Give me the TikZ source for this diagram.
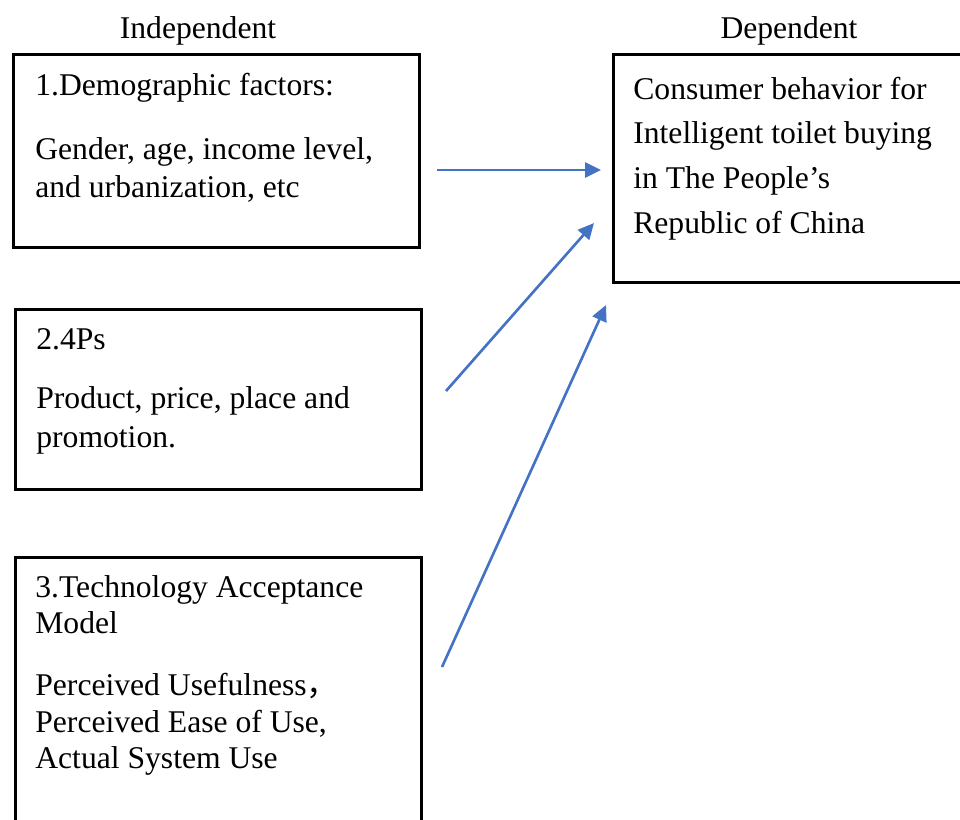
\documentclass[tikz,border=0pt]{standalone}
\usepackage{fontspec}
\setmainfont{Liberation Serif}
\newfontfamily\cjk{Noto Sans CJK SC}
\usetikzlibrary{arrows.meta,positioning}
\definecolor{linkblue}{HTML}{4472C4}

\begin{document}
\begin{tikzpicture}[x=0.02cm, y=-0.02cm, >={Triangle[length=0.32cm,width=0.3cm]},
  box/.style={draw, line width=1.6pt, anchor=north west, inner sep=0pt},
  txt/.style={anchor=base west, inner sep=0pt, font=\fontsize{18}{22}\selectfont},
  head/.style={txt, anchor=base},
  link/.style={->, draw=linkblue, line width=1.5pt}]

\useasboundingbox (0,0) rectangle (960,819);
\clip (0,0) rectangle (960,819);

% Headings
\node[head] (indep) at (198,38) {Independent};
\node[head] (dep) at (789,38) {Dependent};

% Boxes
\node[box, minimum width=8.12cm, minimum height=3.86cm] (demo) at (12,53) {};
\node[box, minimum width=8.12cm, minimum height=3.6cm] (fourps) at (14,308) {};
\node[box, minimum width=8.12cm, minimum height=6cm] (tam) at (14,556) {};
\node[box, minimum width=8cm, minimum height=4.56cm] (cons) at (612,53) {};

% Box 1
\node[txt] (demot) at (35,95) {1.Demographic factors:};
\node[txt] (demoa) at (35,159) {Gender, age, income level,};
\node[txt] (demob) at (35,197) {and urbanization, etc};

% Box 2
\node[txt] (fourpst) at (36,349) {2.4Ps};
\node[txt] (fourpsa) at (36,408) {Product, price, place and};
\node[txt] (fourpsb) at (36,447) {promotion.};

% Box 3
\node[txt] (tamt) at (35,597) {3.Technology Acceptance};
\node[txt] (tamu) at (35,633) {Model};
\node[txt] (tama) at (35,695) {Perceived Usefulness\cjk{，}};
\node[txt] (tamb) at (35,732) {Perceived Ease of Use,};
\node[txt] (tamc) at (35,768) {Actual System Use};

% Dependent box
\node[txt] (consa) at (633,99) {Consumer behavior for};
\node[txt] (consb) at (633,143) {Intelligent toilet buying};
\node[txt] (consc) at (633,188) {in The People’s};
\node[txt] (consd) at (633,233) {Republic of China};

% Arrows
\coordinate (d1) at (437,170);
\coordinate (c1) at (601,170);
\coordinate (d2) at (446,391);
\coordinate (c2) at (594,223);
\coordinate (d3) at (442,667);
\coordinate (c3) at (606,305);
\draw[link] (d1) -- (c1);
\draw[link] (d2) -- (c2);
\draw[link] (d3) -- (c3);

\end{tikzpicture}
\end{document}
